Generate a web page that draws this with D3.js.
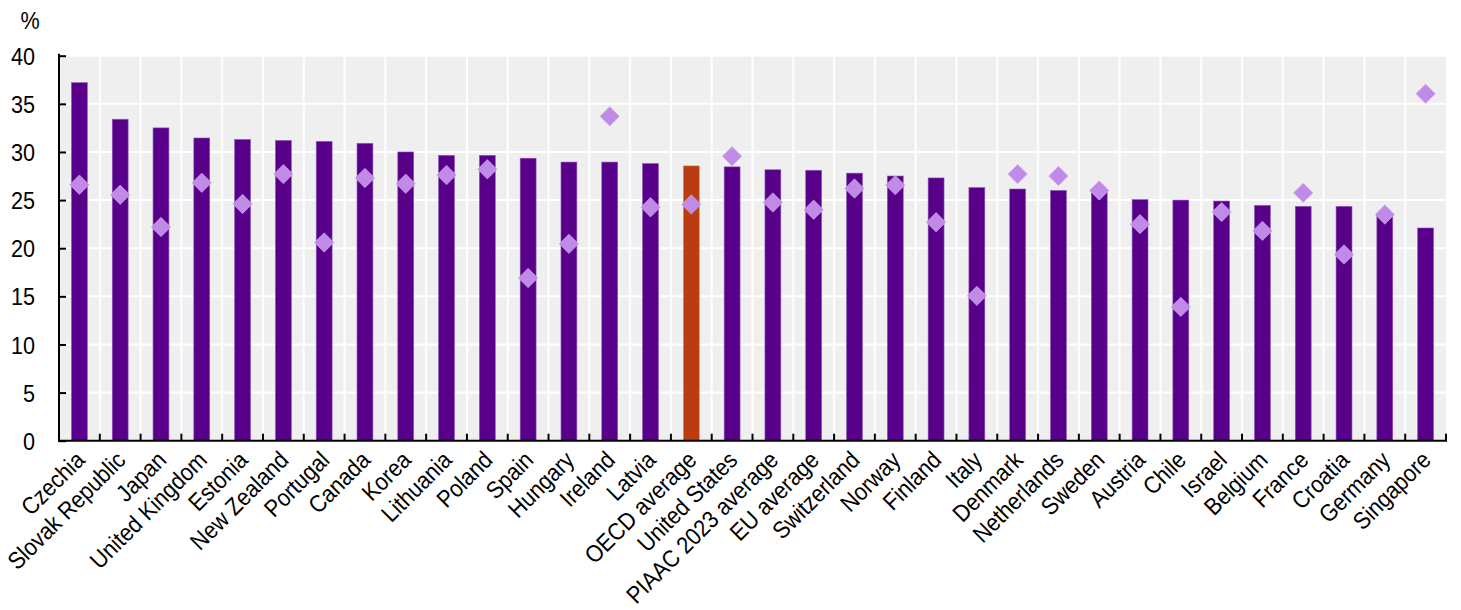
<!DOCTYPE html>
<html><head><meta charset="utf-8">
<script src="https://cdn.jsdelivr.net/npm/d3@7"></script>
<style>body{margin:0;background:#fff}svg{display:block}text{font-family:"Liberation Sans",Arial,sans-serif;fill:#000}</style>
</head><body><svg id="c" width="1461" height="610"></svg>
<script>
const categories=["Czechia","Slovak Republic","Japan","United Kingdom","Estonia","New Zealand","Portugal","Canada","Korea","Lithuania","Poland","Spain","Hungary","Ireland","Latvia","OECD average","United States","PIAAC 2023 average","EU average","Switzerland","Norway","Finland","Italy","Denmark","Netherlands","Sweden","Austria","Chile","Israel","Belgium","France","Croatia","Germany","Singapore"];
const barValues=[37.2,33.4,32.5,31.45,31.3,31.2,31.1,30.9,30.0,29.65,29.65,29.35,28.95,28.95,28.8,28.55,28.45,28.15,28.1,27.8,27.5,27.3,26.3,26.15,26.0,25.85,25.05,25.0,24.9,24.45,24.35,24.35,23.4,22.1];
const diamondValues=[26.6,25.55,22.2,26.8,24.6,27.7,20.6,27.3,26.7,27.6,28.2,16.9,20.45,33.7,24.25,24.55,29.55,24.75,24.0,26.2,26.55,22.7,15.05,27.7,27.5,26.0,22.5,13.9,23.75,21.8,25.75,19.35,23.5,36.05];
const highlight="OECD average";
const yTicks=[0,5,10,15,20,25,30,35,40];

const svg=d3.select("#c");
const L=59,R=1446,T=55.7,B=440.7;
const SX=0.9, FS=24;
const x=d3.scaleBand().domain(categories).range([L,R]).paddingInner(0).paddingOuter(0);
const y=d3.scaleLinear().domain([0,40]).range([B,T]);

svg.append("rect").attr("x",L).attr("y",T).attr("width",R-L).attr("height",B-T).attr("fill","#efefef");
const g=svg.append("g");
g.selectAll(".hg").data(yTicks.filter(d=>d>0)).join("line")
 .attr("x1",L).attr("x2",R).attr("y1",d=>y(d)).attr("y2",d=>y(d)).attr("stroke","#fff").attr("stroke-width",2);
g.selectAll(".vg").data(categories.slice(1)).join("line")
 .attr("x1",d=>x(d)).attr("x2",d=>x(d)).attr("y1",T).attr("y2",B).attr("stroke","#fff").attr("stroke-width",2);

const bw=x.bandwidth()*0.39;
svg.append("g").selectAll("rect").data(categories).join("rect")
 .attr("x",d=>x(d)+x.bandwidth()/2-bw/2).attr("width",bw)
 .attr("y",(d,i)=>y(barValues[i])).attr("height",(d,i)=>y(0)-y(barValues[i]))
 .attr("fill",d=>d===highlight?"#ba3c10":"#58008a")
 .attr("stroke",d=>d===highlight?"#d98a70":"#8d5cbf").attr("stroke-width",0.6);

const hd=9.7;
svg.append("g").selectAll("path").data(categories).join("path")
 .attr("transform",(d,i)=>`translate(${x(d)+x.bandwidth()/2},${y(diamondValues[i])})`)
 .attr("d",`M0,${-hd}L${hd},0L0,${hd}L${-hd},0Z`)
 .attr("fill","#c08be6").attr("stroke","#d2abf0").attr("stroke-width",0.6);

const ya=svg.append("g").attr("transform",`translate(${L},0)`)
 .call(d3.axisLeft(y).tickValues(yTicks).tickSize(-7).tickPadding(24).tickFormat(d3.format("d")));
ya.select(".domain").remove();
ya.selectAll("line").attr("stroke","#000").attr("stroke-width",2);
ya.selectAll("text").attr("x",-24/SX).attr("dy","0.36em").attr("transform",`scale(${SX},1)`).style("font-size",FS+"px");
svg.append("line").attr("x1",L).attr("x2",L).attr("y1",T-2).attr("y2",B+1).attr("stroke","#000").attr("stroke-width",2);

const xa=svg.append("g").attr("transform",`translate(0,${B})`);
xa.selectAll("line.t").data(categories.slice(1).map(d=>x(d)).concat([R])).join("line")
 .attr("x1",d=>d).attr("x2",d=>d).attr("y1",0).attr("y2",-7).attr("stroke","#000").attr("stroke-width",2);
xa.append("line").attr("x1",L-1).attr("x2",R+1).attr("y1",0).attr("y2",0).attr("stroke","#000").attr("stroke-width",2);
xa.selectAll("text").data(categories).join("text")
 .attr("transform",d=>`translate(${x(d)+x.bandwidth()/2},0) rotate(-45) scale(${SX},1)`)
 .attr("x",-10/SX).attr("y",19.5).attr("text-anchor","end")
 .style("font-size",FS+"px").text(d=>d);

svg.append("text").attr("transform",`translate(30,29) scale(${SX},1)`).attr("text-anchor","middle").style("font-size",FS+"px").text("%");
</script></body></html>
